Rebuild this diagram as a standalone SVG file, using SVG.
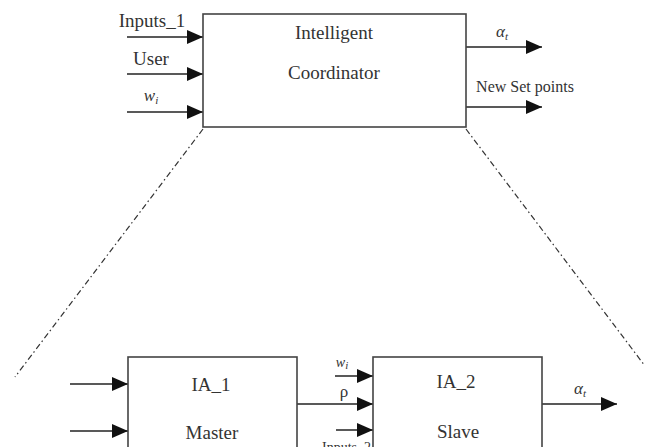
<svg xmlns="http://www.w3.org/2000/svg" width="646" height="447" viewBox="0 0 646 447">
<style>
.box{fill:#fff;stroke:#444;stroke-width:1.6}
.ln{stroke:#222;stroke-width:1.5;fill:none}
.dd{stroke:#333;stroke-width:1.2;fill:none;stroke-dasharray:6 3 1.5 3}
text{font-family:"Liberation Serif","Times New Roman",serif;fill:#333;font-size:19px}
.c{text-anchor:middle}
.m{font-size:17px}
.n{font-size:16px}
.s{font-size:11px}
.i{font-style:italic}
</style>
<defs>
<marker id="ah" markerWidth="16" markerHeight="14" refX="16" refY="7" orient="auto" markerUnits="userSpaceOnUse">
<path d="M0,0 L16,7 L0,14 Z" fill="#111"/>
</marker>
</defs>
<g id="connectors">
<line class="ln" x1="127" y1="37" x2="203" y2="37" marker-end="url(#ah)"/>
<line class="ln" x1="127" y1="74" x2="203" y2="74" marker-end="url(#ah)"/>
<line class="ln" x1="127" y1="112" x2="203" y2="112" marker-end="url(#ah)"/>
<line class="ln" x1="466" y1="47" x2="542" y2="47" marker-end="url(#ah)"/>
<line class="ln" x1="466" y1="107" x2="542" y2="107" marker-end="url(#ah)"/>
<line class="dd" x1="203" y1="129" x2="15" y2="377"/>
<line class="dd" x1="466" y1="129" x2="645" y2="366"/>
<line class="ln" x1="70" y1="384" x2="128" y2="384" marker-end="url(#ah)"/>
<line class="ln" x1="70" y1="431" x2="128" y2="431" marker-end="url(#ah)"/>
<line class="ln" x1="335" y1="376" x2="373" y2="376" marker-end="url(#ah)"/>
<line class="ln" x1="297" y1="404" x2="373" y2="404" marker-end="url(#ah)"/>
<line class="ln" x1="336" y1="430" x2="373" y2="430" marker-end="url(#ah)"/>
<line class="ln" x1="542" y1="404" x2="617" y2="404" marker-end="url(#ah)"/>
</g>
<g id="coordinator">
<rect class="box" x="203" y="14" width="263" height="113"/>
<text class="c" x="334" y="39">Intelligent</text>
<text class="c" x="334" y="79">Coordinator</text>
</g>
<g id="labels-top">
<text class="c" x="152" y="27">Inputs_1</text>
<text class="c" x="151" y="65">User</text>
<text class="c i m" x="151" y="101">w<tspan class="s" dy="3">i</tspan></text>
<text class="c i m" x="502" y="37">α<tspan class="s" dy="3">t</tspan></text>
<text class="c n" x="525" y="92">New Set points</text>
</g>
<g id="master">
<rect class="box" x="128" y="357" width="169" height="110"/>
<text class="c" x="211" y="391">IA_1</text>
<text class="c" x="212" y="439">Master</text>
</g>
<g id="slave">
<rect class="box" x="373" y="357" width="169" height="110"/>
<text class="c" x="456" y="388">IA_2</text>
<text class="c" x="458" y="438">Slave</text>
</g>
<g id="labels-bottom">
<text class="c i" x="342" y="367" style="font-size:14px">w<tspan class="s" dy="2">i</tspan></text>
<text class="c" x="344" y="397" style="font-size:17px">ρ</text>
<text x="371" y="452" text-anchor="end" style="font-size:14px">Inputs_2</text>
<text class="c i m" x="580" y="394">α<tspan class="s" dy="3">t</tspan></text>
</g>
</svg>
